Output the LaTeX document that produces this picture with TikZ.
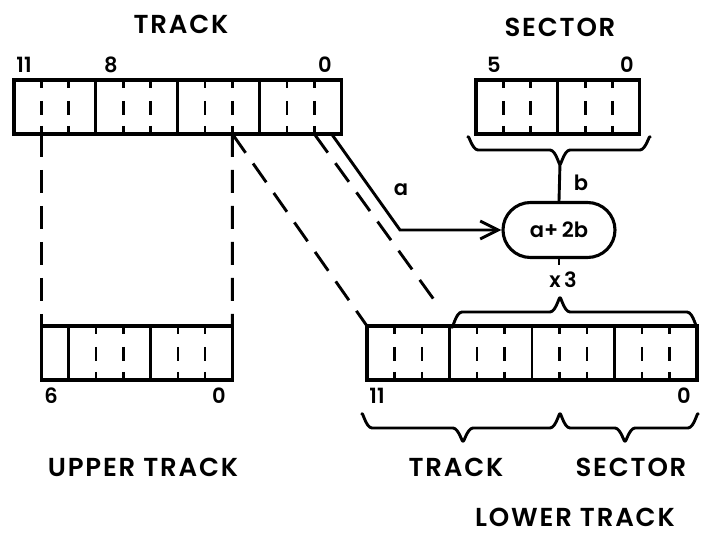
\documentclass[tikz,border=0pt]{standalone}
\usepackage{fontspec}
\setmainfont{Poppins}[BoldFont=* SemiBold]
\newfontfamily\titlefont{Poppins}[LetterSpace=7, BoldFont=* SemiBold]
\usetikzlibrary{arrows.meta,shapes.misc,calc}
\begin{document}
\begin{tikzpicture}[x=1pt,y=-1pt,
  reg/.style={draw, line width=3.3pt, inner sep=0pt, outer sep=0pt, minimum height=54pt, anchor=north west},
  bitsep/.style={line width=2.6pt, dash pattern=on 8pt off 13pt on 14pt off 11pt on 8pt off 20pt},
  groupsep/.style={line width=2.9pt},
  conn/.style={line width=2.9pt, dash pattern=on 23pt off 13pt},
  wire/.style={line width=2.9pt},
  brace/.style={line width=2.9pt, line join=round},
  title/.style={font=\titlefont\bfseries\fontsize{26}{28}\selectfont, inner sep=0pt},
  num/.style={font=\bfseries\fontsize{21}{23}\selectfont, inner sep=0pt},
  lab/.style={font=\bfseries\fontsize{21}{23}\selectfont, inner sep=0pt}
]
\useasboundingbox[fill=white] (0,0) rectangle (702,537);

% registers
\node[reg, minimum width=327.6pt] (track) at (14,80) {};
\node[reg, minimum width=163.8pt] (sector) at (476,80) {};
\node[reg, minimum width=191.1pt] (upper) at (41.3,326) {};
\node[reg, minimum width=330pt] (lower) at (367,326) {};

\foreach \i in {1,2,4,5,7,8,10,11}
  \draw[bitsep] ([xshift=\i*27.3pt]track.north west) -- ([xshift=\i*27.3pt]track.south west);
\foreach \i in {3,6,9}
  \draw[groupsep] ([xshift=\i*27.3pt]track.north west) -- ([xshift=\i*27.3pt]track.south west);

\foreach \i in {1,2,4,5}
  \draw[bitsep] ([xshift=\i*27.3pt]sector.north west) -- ([xshift=\i*27.3pt]sector.south west);
\draw[groupsep] ([xshift=3*27.3pt]sector.north west) -- ([xshift=3*27.3pt]sector.south west);

\foreach \i in {2,3,5,6}
  \draw[bitsep] ([xshift=\i*27.3pt]upper.north west) -- ([xshift=\i*27.3pt]upper.south west);
\foreach \i in {1,4}
  \draw[groupsep] ([xshift=\i*27.3pt]upper.north west) -- ([xshift=\i*27.3pt]upper.south west);

\foreach \i in {1,2,4,5,7,8,10,11}
  \draw[bitsep] ([xshift=\i*27.5pt]lower.north west) -- ([xshift=\i*27.5pt]lower.south west);
\foreach \i in {3,6,9}
  \draw[groupsep] ([xshift=\i*27.5pt]lower.north west) -- ([xshift=\i*27.5pt]lower.south west);

% titles and bit numbers
\node[title] (ttrack) at (181,24) {TRACK};
\node[title] (tsector) at (560,27) {SECTOR};
\node[num] (n11) at (24,65) {11};
\node[num] (n8) at (111,65) {8};
\node[num] (n0) at (325,65) {0};
\node[num] (s5) at (494,65) {5};
\node[num] (s0) at (627,65) {0};
\node[num] (u6) at (51,396) {6};
\node[num] (u0) at (219,396) {0};
\node[num] (l11) at (377,396) {11};
\node[num] (l0) at (684,396) {0};

% dashed connectors
\coordinate (tb10) at ([xshift=27.3pt]track.south west);
\coordinate (tb4) at ([xshift=8*27.3pt]track.south west);
\coordinate (tb1) at ([xshift=11*27.3pt]track.south west);
\coordinate (tb0) at ([xshift=-10pt]track.south east);
\draw[conn] (tb10) -- (upper.north west);
\draw[conn] (tb4) -- (upper.north east);
\draw[conn] (tb4) -- (lower.north west);
\coordinate (dend) at (440,308);
\draw[conn] (tb1) -- (dend);

% adder
\node[draw, rounded rectangle, line width=3.1pt, minimum width=112pt, minimum height=55pt, inner sep=0pt,
      font=\bfseries\fontsize{21}{23}\selectfont] (sum) at (559,230) {a+\,2b};
\coordinate (bend) at (400,230);
\draw[wire, -{Straight Barb[length=18pt,width=18pt,line width=2.9pt]}] (tb0) -- (bend) -- (sum.west);
\node[lab] (la) at (401,190) {a};

% brace under sector
\coordinate (btip) at (560,163);
\draw[brace] (468,138) to[out=90,in=180] (478,150) -- (550,150) to[out=0,in=-90] (btip)
             to[out=-90,in=180] (570,150) -- (640,150) to[out=0,in=90] (650,138);
\draw[wire] (btip) -- (sum.north);
\node[lab] (lb) at (581,183) {b};

% x3 and brace over lower track
\coordinate (stick) at (559,265);
\draw[wire] (sum.south) -- (stick);
\node[lab] (x3) at (563,280) {x\,3};
\coordinate (utip) at (560,299);
\draw[brace] (452,326) to[out=-90,in=180] (462,312) -- (550,312) to[out=0,in=90] (utip)
             to[out=90,in=180] (570,312) -- (687,312) to[out=0,in=-90] (697,326);

% braces under lower track
\draw[brace] (362,415) to[out=90,in=180] (372,428) -- (453,428) to[out=0,in=-90] (463,440)
             to[out=-90,in=180] (473,428) -- (550,428) to[out=0,in=90] (560,415)
             to[out=90,in=180] (570,428) -- (615,428) to[out=0,in=-90] (625,440)
             to[out=-90,in=180] (635,428) -- (688,428) to[out=0,in=90] (698,415);

% bottom labels
\node[title] (tupper) at (143,467) {UPPER TRACK};
\node[title] (tltrack) at (456,467) {TRACK};
\node[title] (tlsector) at (631,467) {SECTOR};
\node[title] (tlower) at (575,517) {LOWER TRACK};
\end{tikzpicture}
\end{document}
